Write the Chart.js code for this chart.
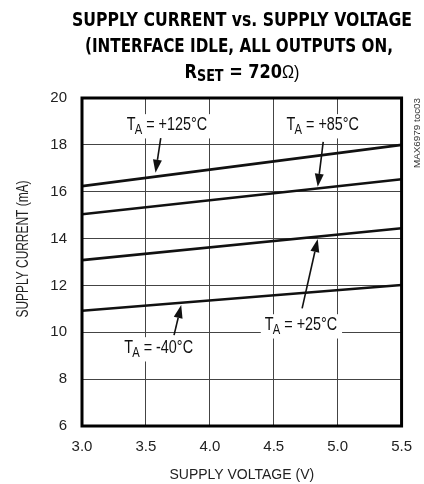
<!DOCTYPE html>
<html>
<head>
<meta charset="utf-8">
<script src="https://cdn.jsdelivr.net/npm/chart.js@4/dist/chart.umd.min.js"></script>
<style>
  html, body { margin: 0; padding: 0; background: #fff; }
  #wrap { width: 424px; height: 484px; position: relative; }
</style>
</head>
<body>
<div id="wrap"><canvas id="chart" width="424" height="484"></canvas></div>
<script>
const FONT = '"Liberation Sans", Arial, sans-serif';
const BOLD_FONT = '"DejaVu Sans", "Liberation Sans", sans-serif';

// supply voltage (V) at each end of the curves
const voltage = [3.0, 5.5];
// supply current (mA) per ambient temperature
const cur125 = [16.24, 18.0];
const cur85 = [15.04, 16.53];
const cur25 = [13.08, 14.44];
const curM40 = [10.92, 12.02];

const xTicks = [3.0, 3.5, 4.0, 4.5, 5.0, 5.5];
const yTicks = [6, 8, 10, 12, 14, 16, 18, 20];

// curve labels: text after subscript, label left edge (V), label middle (mA)
const labelText = ['= +125°C', '= +85°C', '= +25°C', '= -40°C'];
const labelX = [3.35, 4.60, 4.43, 3.33];
const labelY = [18.85, 18.85, 10.31, 9.33];
// arrows: tail -> tip, in data units
const arrowFromX = [3.616, 4.887, 4.722, 3.72];
const arrowFromY = [18.29, 18.13, 11.02, 9.88];
const arrowToX = [3.575, 4.844, 4.844, 3.776];
const arrowToY = [16.81, 16.21, 13.98, 11.16];

const SQUEEZE = 0.8;

function toXY(arr) {
  return arr.map((v, i) => ({ x: voltage[i], y: v }));
}

function drawSubLabel(ctx, x, yMid, rest, size) {
  ctx.save();
  ctx.textBaseline = 'middle';
  ctx.textAlign = 'left';
  const big = size + 'px ' + FONT;
  const small = Math.round(size * 0.8) + 'px ' + FONT;
  ctx.font = big; const wT = ctx.measureText('T').width;
  ctx.font = small; const wA = ctx.measureText('A').width;
  ctx.font = big; const wR = ctx.measureText(' ' + rest).width;
  const total = (wT + wA + wR) * SQUEEZE;
  ctx.fillStyle = '#fff';
  ctx.fillRect(x - 4, yMid - size * 0.6, total + 8, size * 1.35);
  ctx.translate(x, yMid);
  ctx.scale(SQUEEZE, 1);
  ctx.fillStyle = '#111';
  ctx.font = big; ctx.fillText('T', 0, 0);
  ctx.font = small; ctx.fillText('A', wT - 1, size * 0.3);
  ctx.font = big; ctx.fillText(' ' + rest, wT + wA - 1, 0);
  ctx.restore();
}

function drawArrow(ctx, x1, y1, x2, y2) {
  const ang = Math.atan2(y2 - y1, x2 - x1);
  const len = 13, half = 4.5;
  const bx = x2 - len * Math.cos(ang), by = y2 - len * Math.sin(ang);
  ctx.save();
  ctx.strokeStyle = '#111'; ctx.fillStyle = '#111'; ctx.lineWidth = 1.6;
  ctx.beginPath(); ctx.moveTo(x1, y1); ctx.lineTo(bx, by); ctx.stroke();
  ctx.beginPath();
  ctx.moveTo(x2, y2);
  ctx.lineTo(bx + half * Math.sin(ang), by - half * Math.cos(ang));
  ctx.lineTo(bx - half * Math.sin(ang), by + half * Math.cos(ang));
  ctx.closePath(); ctx.fill();
  ctx.restore();
}

// text fitted to a given width by squeezing it horizontally
function fitText(ctx, parts, cx, y, width) {
  let w = 0;
  parts.forEach(p => { ctx.font = p.font; w += ctx.measureText(p.t).width; });
  const s = width / w;
  ctx.save();
  ctx.translate(cx - width / 2, y);
  ctx.scale(s, 1);
  let x = 0;
  parts.forEach(p => {
    ctx.font = p.font;
    ctx.fillText(p.t, x, p.dy || 0);
    x += ctx.measureText(p.t).width;
  });
  ctx.restore();
}

const decor = {
  id: 'decor',
  afterDatasetsDraw(chart) {
    const ctx = chart.ctx;
    const xs = chart.scales.x, ys = chart.scales.y;
    for (let i = 0; i < labelText.length; i++) {
      drawSubLabel(ctx, xs.getPixelForValue(labelX[i]), ys.getPixelForValue(labelY[i]), labelText[i], 18);
      drawArrow(ctx, xs.getPixelForValue(arrowFromX[i]), ys.getPixelForValue(arrowFromY[i]),
        xs.getPixelForValue(arrowToX[i]), ys.getPixelForValue(arrowToY[i]));
    }
  },
  afterDraw(chart) {
    const ctx = chart.ctx;
    const a = chart.chartArea;
    ctx.save();
    ctx.strokeStyle = '#000'; ctx.lineWidth = 3;
    ctx.strokeRect(a.left, a.top, a.right - a.left, a.bottom - a.top);

    // title
    ctx.fillStyle = '#000';
    ctx.textBaseline = 'middle';
    const tf = 'bold 19px ' + BOLD_FONT;
    fitText(ctx, [{ t: 'SUPPLY CURRENT vs. SUPPLY VOLTAGE', font: tf }], 242, 21, 340);
    fitText(ctx, [{ t: '(INTERFACE IDLE, ALL OUTPUTS ON,', font: tf }], 239, 47, 308);
    fitText(ctx, [
      { t: 'R', font: tf },
      { t: 'SET', font: 'bold 15px ' + BOLD_FONT, dy: 4 },
      { t: ' = 720', font: tf },
      { t: 'Ω)', font: '19px ' + FONT }
    ], 242, 73, 115);

    // y axis title
    ctx.textAlign = 'left';
    ctx.fillStyle = '#222';
    ctx.save();
    ctx.translate(24, 249);
    ctx.rotate(-Math.PI / 2);
    fitText(ctx, [{ t: 'SUPPLY CURRENT (mA)', font: '16px ' + FONT }], 0, 0, 137);
    ctx.restore();

    // figure code
    ctx.save();
    ctx.translate(418, 133);
    ctx.rotate(-Math.PI / 2);
    ctx.fillStyle = '#333';
    fitText(ctx, [{ t: 'MAX6979 toc03', font: '9px ' + FONT }], 0, 0, 70);
    ctx.restore();
    ctx.restore();
  }
};

const lineStyle = { borderColor: '#111', borderWidth: 2.6, pointRadius: 0, fill: false, tension: 0 };

new Chart(document.getElementById('chart').getContext('2d'), {
  type: 'line',
  data: {
    datasets: [
      Object.assign({ label: '+125', data: toXY(cur125) }, lineStyle),
      Object.assign({ label: '+85', data: toXY(cur85) }, lineStyle),
      Object.assign({ label: '+25', data: toXY(cur25) }, lineStyle),
      Object.assign({ label: '-40', data: toXY(curM40) }, lineStyle)
    ]
  },
  options: {
    responsive: false,
    animation: false,
    layout: { padding: { top: 98, right: 14, bottom: 0, left: 0 } },
    plugins: { legend: { display: false }, tooltip: { enabled: false } },
    scales: {
      x: {
        type: 'linear', min: 3.0, max: 5.5,
        afterBuildTicks: s => { s.ticks = xTicks.map(v => ({ value: v })); },
        afterFit: s => { s.height = 58; },
        grid: { color: '#444', lineWidth: 1, drawTicks: false },
        border: { display: false },
        ticks: { padding: 12, color: '#222', font: { family: FONT, size: 15 }, callback: v => v.toFixed(1) },
        title: { display: true, text: 'SUPPLY VOLTAGE (V)', color: '#222', font: { family: FONT, size: 14 }, padding: { top: 3, bottom: 0 } }
      },
      y: {
        type: 'linear', min: 6, max: 20,
        afterBuildTicks: s => { s.ticks = yTicks.map(v => ({ value: v })); },
        afterFit: s => { s.width = 82; },
        grid: { color: '#444', lineWidth: 1, drawTicks: false },
        border: { display: false },
        ticks: { padding: 15, color: '#222', font: { family: FONT, size: 15 } }
      }
    }
  },
  plugins: [decor]
});
</script>
</body>
</html>
